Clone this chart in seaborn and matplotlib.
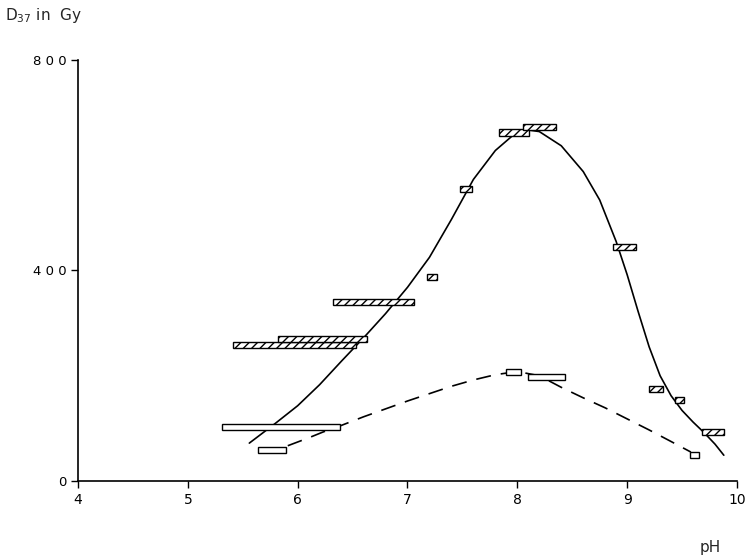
import matplotlib
matplotlib.use("Agg")
import matplotlib.pyplot as plt
import seaborn as sns
import pandas as pd

# ---- data ----
# hatched boxes (solid-curve series): pH start, pH end, D37 (Gy)
hat_ph_lo = [5.41, 5.82, 6.32, 7.18, 7.48, 7.83, 8.05, 8.87, 9.20, 9.44, 9.68]
hat_ph_hi = [6.53, 6.63, 7.06, 7.27, 7.59, 8.11, 8.35, 9.08, 9.33, 9.52, 9.88]
hat_d37 = [259, 270, 340, 388, 555, 662, 673, 445, 175, 154, 93]

# open boxes (dashed-curve series)
open_ph_lo = [5.31, 5.64, 7.90, 8.10, 9.57]
open_ph_hi = [6.39, 5.89, 8.03, 8.43, 9.65]
open_d37 = [102, 59, 207, 197, 50]

# solid curve
solid_ph = [5.56, 5.8, 6.0, 6.2, 6.4, 6.6, 6.8, 7.0, 7.2, 7.4, 7.6, 7.8,
            7.95, 8.1, 8.2, 8.4, 8.6, 8.75, 8.9, 9.0, 9.1, 9.2, 9.3, 9.4,
            9.5, 9.6, 9.7, 9.8, 9.88]
solid_d37 = [72, 110, 143, 183, 228, 272, 318, 368, 425, 497, 573, 628,
             655, 667, 664, 637, 588, 534, 455, 392, 322, 255, 200, 162,
             134, 112, 92, 70, 49]

# dashed curve
dash_ph = [5.91, 6.1, 6.23, 6.39, 6.6, 6.8, 7.0, 7.2, 7.4, 7.6, 7.8, 8.0,
           8.2, 8.4, 8.6, 8.8, 9.0, 9.2, 9.4, 9.58]
dash_d37 = [67, 82, 93, 105, 122, 137, 152, 166, 180, 192, 202, 208,
            200, 178, 158, 139, 118, 97, 75, 55]

x_ticks = [4, 5, 6, 7, 8, 9, 10]
y_ticks = [0, 400, 800]
y_ticklabels = ["0", "4 0 0", "8 0 0"]

BOX_H = 12

sns.set_style("ticks")
plt.rcParams["font.family"] = ["DejaVu Sans"]

fig = plt.figure(figsize=(7.47, 5.58), dpi=100)
ax = fig.add_axes([0.1044, 0.138, 0.8822, 0.7545])

solid_df = pd.DataFrame({"pH": solid_ph, "D37": solid_d37})
dash_df = pd.DataFrame({"pH": dash_ph, "D37": dash_d37})
sns.lineplot(data=solid_df, x="pH", y="D37", sort=False, color="black",
             linewidth=1.2, ax=ax, zorder=2)
sns.lineplot(data=dash_df, x="pH", y="D37", sort=False, color="black",
             linewidth=1.2, ax=ax, zorder=2, linestyle=(0, (9, 6)))

hat_w = [h - l for l, h in zip(hat_ph_lo, hat_ph_hi)]
hat_b = [v - BOX_H / 2 for v in hat_d37]
ax.bar(hat_ph_lo, [BOX_H] * len(hat_d37), width=hat_w, bottom=hat_b,
       align="edge", facecolor="white", edgecolor="black", linewidth=1.0,
       hatch="////", zorder=3)

open_w = [h - l for l, h in zip(open_ph_lo, open_ph_hi)]
open_b = [v - BOX_H / 2 for v in open_d37]
ax.bar(open_ph_lo, [BOX_H] * len(open_d37), width=open_w, bottom=open_b,
       align="edge", facecolor="white", edgecolor="black", linewidth=1.0,
       zorder=3)

ax.set_xlim(4, 10)
ax.set_ylim(0, 800)
ax.set_xticks(x_ticks)
ax.set_xticklabels([str(t) for t in x_ticks])
ax.set_yticks(y_ticks)
ax.set_yticklabels(y_ticklabels)
ax.tick_params(direction="out", length=5, width=1, labelsize=10, colors="black")
ax.tick_params(axis="y", labelsize=9.5)
ax.set_xlabel("")
ax.set_ylabel("")
for s in ["top", "right"]:
    ax.spines[s].set_visible(False)
for s in ["left", "bottom"]:
    ax.spines[s].set_linewidth(1.2)
    ax.spines[s].set_color("black")

fig.text(0.007, 0.972, r"D$_{37}$ in  Gy", fontsize=11, ha="left", va="center")
fig.text(0.951, 0.006, "pH", fontsize=11, ha="center", va="bottom")

fig.savefig("out.png", dpi=100)
